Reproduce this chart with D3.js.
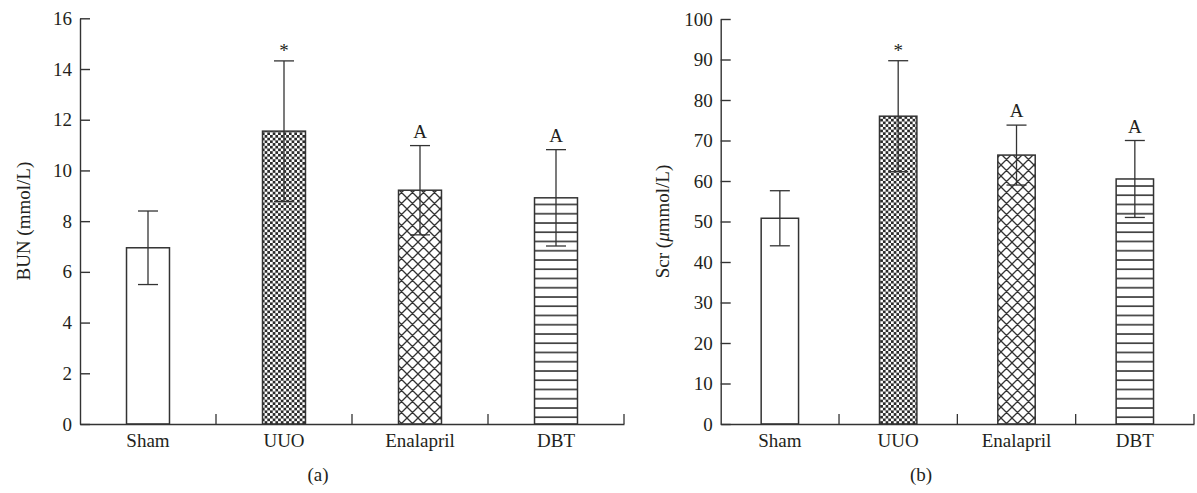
<!DOCTYPE html>
<html>
<head>
<meta charset="utf-8">
<script src="https://cdn.jsdelivr.net/npm/d3@7"></script>
<style>
  body { margin: 0; background: #fff; }
  svg text { font-family: "Liberation Serif", "DejaVu Serif", serif; fill: #231f20; }
</style>
</head>
<body>
<div id="chart"></div>
<script>
// groups on the x axis
const groups = ["Sham", "UUO", "Enalapril", "DBT"];
const fills = ["none", "checker", "cross", "hlines"];

// panel (a) BUN
const bunMean = [6.95, 11.55, 9.22, 8.92];
const bunSD = [1.45, 2.77, 1.76, 1.90];
const bunMarks = ["", "*", "A", "A"];
const bunTicks = [0, 2, 4, 6, 8, 10, 12, 14, 16];

// panel (b) Scr
const scrMean = [50.8, 76.0, 66.4, 60.5];
const scrSD = [6.8, 13.7, 7.4, 9.5];
const scrMarks = ["", "*", "A", "A"];
const scrTicks = [0, 10, 20, 30, 40, 50, 60, 70, 80, 90, 100];

const W = 1197, H = 493;
const ink = "#333";

const svg = d3.select("#chart").append("svg")
  .attr("width", W)
  .attr("height", H);

// fill patterns
const defs = svg.append("defs");

let checker = defs.append("pattern")
  .attr("id", "checker")
  .attr("patternUnits", "userSpaceOnUse")
  .attr("width", 5.4).attr("height", 5.4);
checker.append("rect").attr("width", 5.4).attr("height", 5.4).attr("fill", "#fff");
checker.append("rect").attr("width", 2.7).attr("height", 2.7).attr("fill", "#2a2a2a");
checker.append("rect").attr("x", 2.7).attr("y", 2.7).attr("width", 2.7).attr("height", 2.7).attr("fill", "#2a2a2a");

let cross = defs.append("pattern")
  .attr("id", "cross")
  .attr("patternUnits", "userSpaceOnUse")
  .attr("width", 11).attr("height", 11);
cross.append("rect").attr("width", 11).attr("height", 11).attr("fill", "#fff");
cross.append("path")
  .attr("d", "M0,0L11,11M11,0L0,11M-1,10L1,12M10,-1L12,1M-1,1L1,-1M10,12L12,10")
  .attr("stroke", ink).attr("stroke-width", 1.3);

let hlines = defs.append("pattern")
  .attr("id", "hlines")
  .attr("patternUnits", "userSpaceOnUse")
  .attr("width", 10).attr("height", 9.25);
hlines.append("rect").attr("width", 10).attr("height", 9.25).attr("fill", "#fff");
hlines.append("line")
  .attr("x1", 0).attr("x2", 10).attr("y1", 1).attr("y2", 1)
  .attr("stroke", ink).attr("stroke-width", 1.6);

function drawPanel(opts) {
  let x = d3.scaleBand()
    .domain(groups)
    .range([opts.left, opts.right])
    .padding(0);

  let y = d3.scaleLinear()
    .domain([0, opts.ticks[opts.ticks.length - 1]])
    .range([opts.bottom, opts.top]);

  let g = svg.append("g");
  let barW = x.bandwidth() * 0.316;

  // bars
  g.selectAll(".bar")
    .data(groups)
    .enter().append("rect")
    .attr("class", "bar")
    .attr("x", d => x(d) + (x.bandwidth() - barW) / 2)
    .attr("y", (d, i) => y(opts.mean[i]))
    .attr("width", barW)
    .attr("height", (d, i) => y(0) - y(opts.mean[i]))
    .attr("fill", (d, i) => fills[i] === "none" ? "#fff" : `url(#${fills[i]})`)
    .attr("stroke", ink)
    .attr("stroke-width", 1.5);

  // error bars
  let err = g.selectAll(".err")
    .data(groups)
    .enter().append("g")
    .attr("class", "err")
    .attr("transform", d => `translate(${x(d) + x.bandwidth() / 2},0)`);

  err.append("line")
    .attr("y1", (d, i) => y(opts.mean[i] - opts.sd[i]))
    .attr("y2", (d, i) => y(opts.mean[i] + opts.sd[i]))
    .attr("stroke", ink).attr("stroke-width", 1.3);
  err.append("line")
    .attr("x1", -10).attr("x2", 10)
    .attr("y1", (d, i) => y(opts.mean[i] + opts.sd[i]))
    .attr("y2", (d, i) => y(opts.mean[i] + opts.sd[i]))
    .attr("stroke", ink).attr("stroke-width", 1.3);
  err.append("line")
    .attr("x1", -10).attr("x2", 10)
    .attr("y1", (d, i) => y(opts.mean[i] - opts.sd[i]))
    .attr("y2", (d, i) => y(opts.mean[i] - opts.sd[i]))
    .attr("stroke", ink).attr("stroke-width", 1.3);

  // significance marks
  err.append("text")
    .attr("text-anchor", "middle")
    .attr("y", (d, i) => y(opts.mean[i] + opts.sd[i]) - (opts.marks[i] === "*" ? 4 : 8))
    .attr("font-size", 19)
    .text((d, i) => opts.marks[i]);

  // y axis, ticks pointing inward
  let yAxis = g.append("g")
    .attr("transform", `translate(${opts.left},0)`)
    .call(d3.axisLeft(y).tickValues(opts.ticks).tickSizeInner(-10).tickSizeOuter(0).tickPadding(8));
  yAxis.selectAll("path, line").attr("stroke", ink).attr("stroke-width", 1.4);
  yAxis.selectAll("text").attr("font-size", 19).attr("font-family", "Liberation Serif").attr("fill", "#231f20");

  // x axis with labels under each bar
  let xAxis = g.append("g")
    .attr("transform", `translate(0,${opts.bottom})`)
    .call(d3.axisBottom(x).tickSize(0).tickPadding(10));
  xAxis.select(".domain").attr("stroke", ink).attr("stroke-width", 1.6);
  xAxis.selectAll("text").attr("font-size", 19).attr("font-family", "Liberation Serif").attr("fill", "#231f20");

  // upward ticks at the band edges
  g.selectAll(".edge")
    .data(groups)
    .enter().append("line")
    .attr("class", "edge")
    .attr("x1", d => x(d) + x.bandwidth())
    .attr("x2", d => x(d) + x.bandwidth())
    .attr("y1", opts.bottom)
    .attr("y2", opts.bottom - 10)
    .attr("stroke", ink).attr("stroke-width", 1.3);

  // axis title
  let title = g.append("text")
    .attr("transform", `translate(${opts.titleX},${(opts.top + opts.bottom) / 2}) rotate(-90)`)
    .attr("text-anchor", "middle")
    .attr("font-size", 19);
  opts.title.forEach(part => {
    title.append("tspan").attr("font-style", part.italic ? "italic" : null).text(part.text);
  });

  // panel caption
  g.append("text")
    .attr("x", opts.captionX)
    .attr("y", 481)
    .attr("text-anchor", "middle")
    .attr("font-size", 19)
    .text(opts.caption);
}

drawPanel({
  left: 80, right: 624, top: 18.3, bottom: 424,
  mean: bunMean, sd: bunSD, marks: bunMarks, ticks: bunTicks,
  title: [{ text: "BUN (mmol/L)" }],
  titleX: 30, caption: "(a)", captionX: 318
});

drawPanel({
  left: 720.7, right: 1194, top: 19, bottom: 424,
  mean: scrMean, sd: scrSD, marks: scrMarks, ticks: scrTicks,
  title: [{ text: "Scr (" }, { text: "μ", italic: true }, { text: "mmol/L)" }],
  titleX: 669, caption: "(b)", captionX: 921
});
</script>
</body>
</html>
